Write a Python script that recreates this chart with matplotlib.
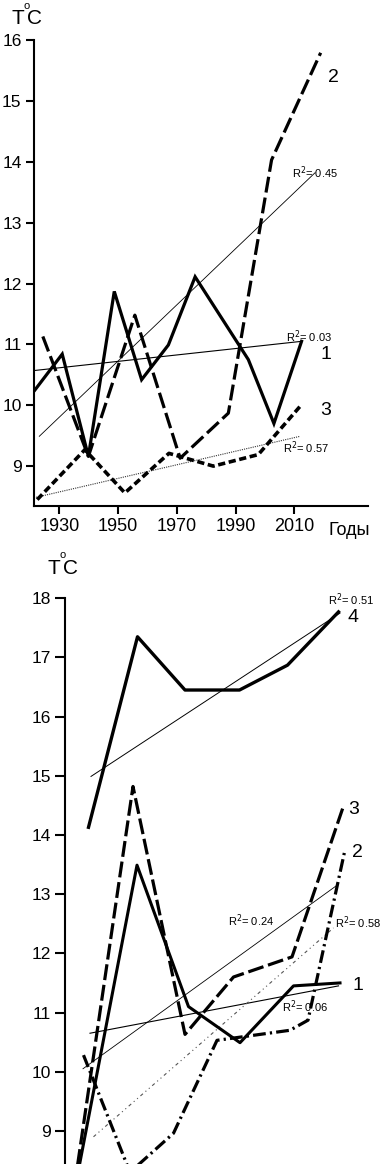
import matplotlib
matplotlib.use("Agg")
import matplotlib.pyplot as plt

plt.rcParams['font.family'] = ['Liberation Sans', 'DejaVu Sans']

# ---------------- top panel data ----------------
top_years_1 = [1921.7, 1931.0, 1939.9, 1948.7, 1958.0, 1967.1, 1976.2, 1994.3, 2003.0, 2012.4]
top_vals_1 = [10.25, 10.84, 9.16, 11.87, 10.42, 10.99, 12.11, 10.75, 9.70, 11.05]

top_years_2 = [1924.4, 1939.9, 1955.7, 1971.1, 1987.5, 2002.2, 2018.9]
top_vals_2 = [11.13, 9.16, 11.48, 9.13, 9.87, 14.03, 15.79]

top_years_3 = [1922.5, 1938.7, 1952.3, 1967.3, 1982.4, 1997.7, 2012.4]
top_vals_3 = [8.45, 9.27, 8.56, 9.21, 9.00, 9.19, 10.01]

top_trend_045_x = [1923.2, 2017.0]
top_trend_045_y = [9.49, 13.82]
top_trend_003_x = [1921.4, 2012.4]
top_trend_003_y = [10.57, 11.05]
top_trend_057_x = [1921.4, 2011.9]
top_trend_057_y = [8.48, 9.49]

top_xticks = [1930, 1950, 1970, 1990, 2010]
top_xticklabels = ['1930', '1950', '1970', '1990', '2010']
top_yticks = [9, 10, 11, 12, 13, 14, 15, 16]

# ---------------- bottom panel data ----------------
bot_years_4 = [1950.0, 1959.8, 1969.3, 1980.2, 1989.8, 2000.0]
bot_vals_4 = [14.13, 17.35, 16.45, 16.45, 16.87, 17.77]

bot_years_1 = [1947.5, 1959.7, 1970.0, 1980.3, 1991.0, 2000.3]
bot_vals_1 = [8.12, 13.49, 11.10, 10.49, 11.45, 11.50]

bot_years_3 = [1947.5, 1958.9, 1969.3, 1979.0, 1990.7, 2001.0]
bot_vals_3 = [8.24, 14.82, 10.63, 11.60, 11.94, 14.49]

bot_years_2 = [1949.0, 1958.3, 1967.0, 1975.7, 1990.3, 1993.9, 2001.3]
bot_vals_2 = [10.28, 8.30, 8.96, 10.53, 10.70, 10.87, 13.75]

bot_trend_051_x = [1950.5, 2000.3]
bot_trend_051_y = [14.99, 17.75]
bot_trend_024_x = [1948.9, 1999.7]
bot_trend_024_y = [10.05, 13.15]
bot_trend_006_x = [1950.3, 2000.0]
bot_trend_006_y = [10.65, 11.45]
bot_trend_058_x = [1951.0, 1999.0]
bot_trend_058_y = [8.90, 12.43]

bot_yticks = [9, 10, 11, 12, 13, 14, 15, 16, 17, 18]

W, H = 384, 1164
fig = plt.figure(figsize=(W / 100, H / 100), dpi=100)
fig.patch.set_facecolor('white')


def ax_rect(l, t, r, b):
    return [l / W, 1 - b / H, (r - l) / W, (b - t) / H]


def style_axis(ax):
    for s in ['top', 'right']:
        ax.spines[s].set_visible(False)
    for s in ['left', 'bottom']:
        ax.spines[s].set_linewidth(1.5)
    ax.tick_params(axis='both', direction='out', width=1.5, length=6, labelsize=12.5, pad=3)


# ---------------- top axes ----------------
ax1 = fig.add_axes(ax_rect(34, 40, 368, 505.7))
style_axis(ax1)
ax1.set_xlim(1921.4, 2035.0)
ax1.set_ylim(8.35, 16.0)
ax1.set_yticks(top_yticks)
ax1.set_xticks(top_xticks)
ax1.set_xticklabels(top_xticklabels, fontsize=13)

ax1.plot(top_trend_045_x, top_trend_045_y, color='black', lw=0.6)
ax1.plot(top_trend_003_x, top_trend_003_y, color='black', lw=0.8)
ax1.plot(top_trend_057_x, top_trend_057_y, color='#333333', lw=0.8, ls=(0, (1, 1)))

ax1.plot(top_years_1, top_vals_1, color='black', lw=2.3, solid_joinstyle='miter')
ax1.plot(top_years_2, top_vals_2, color='black', lw=2.3, ls=(0, (5, 1.6)))
ax1.plot(top_years_3, top_vals_3, color='black', lw=2.6, ls=(0, (2, 1)))

ax1.text(2021.4, 15.39, '2', fontsize=14, ha='left', va='center')
ax1.text(2018.7, 10.83, '1', fontsize=14, ha='left', va='center')
ax1.text(2018.7, 9.92, '3', fontsize=14, ha='left', va='center')
ax1.text(2009.2, 13.82, 'R$^2$= 0.45', fontsize=8, ha='left', va='center')
ax1.text(2007.1, 11.13, 'R$^2$= 0.03', fontsize=8, ha='left', va='center')
ax1.text(2006.1, 9.31, 'R$^2$= 0.57', fontsize=8, ha='left', va='center')
ax1.text(2028.5, 8.35 - 0.27, 'Годы', fontsize=13, ha='center', va='top')

# ---------------- bottom axes ----------------
ax2 = fig.add_axes(ax_rect(65, 598.3, 372, 1164))
style_axis(ax2)
ax2.spines['bottom'].set_visible(False)
ax2.tick_params(axis='y', length=7)
ax2.set_xlim(1945.3, 2006.7)
ax2.set_ylim(8.44, 18.0)
ax2.set_yticks(bot_yticks)
ax2.set_xticks([])

ax2.plot(bot_trend_051_x, bot_trend_051_y, color='black', lw=0.7)
ax2.plot(bot_trend_024_x, bot_trend_024_y, color='black', lw=0.6)
ax2.plot(bot_trend_006_x, bot_trend_006_y, color='black', lw=0.8)
ax2.plot(bot_trend_058_x, bot_trend_058_y, color='#555555', lw=0.8, ls=(0, (3, 3, 1, 3, 1, 3)))

ax2.plot(bot_years_4, bot_vals_4, color='black', lw=2.4)
ax2.plot(bot_years_1, bot_vals_1, color='black', lw=2.2)
ax2.plot(bot_years_3, bot_vals_3, color='black', lw=2.3, ls=(0, (5, 1.5)))
ax2.plot(bot_years_2, bot_vals_2, color='black', lw=2.3, ls=(0, (4, 1.3, 0.7, 1.3)))

ax2.text(2001.9, 17.68, '4', fontsize=14, ha='left', va='center', clip_on=False)
ax2.text(2001.9, 14.43, '3', fontsize=14, ha='left', va='center', clip_on=False)
ax2.text(2002.7, 13.70, '2', fontsize=14, ha='left', va='center', clip_on=False)
ax2.text(2002.7, 11.45, '1', fontsize=14, ha='left', va='center', clip_on=False)
ax2.text(1998.0, 17.98, 'R$^2$= 0.51', fontsize=8, ha='left', va='center', clip_on=False)
ax2.text(1977.9, 12.55, 'R$^2$= 0.24', fontsize=8, ha='left', va='center', clip_on=False)
ax2.text(1999.3, 12.51, 'R$^2$= 0.58', fontsize=8, ha='left', va='center', clip_on=False)
ax2.text(1988.7, 11.10, 'R$^2$= 0.06', fontsize=8, ha='left', va='center', clip_on=False)

# ---------------- axis titles T°C ----------------
def tc_label(xc, yc):
    fig.text((xc - 8) / W, 1 - yc / H, 'T', fontsize=15, ha='center', va='center')
    fig.text((xc + 8) / W, 1 - yc / H, 'C', fontsize=15, ha='center', va='center')
    fig.text((xc + 1) / W, 1 - (yc - 13) / H, 'o', fontsize=8, ha='center', va='center')

tc_label(26, 19)
tc_label(62, 568)

fig.savefig('out.png', dpi=100, facecolor='white')
